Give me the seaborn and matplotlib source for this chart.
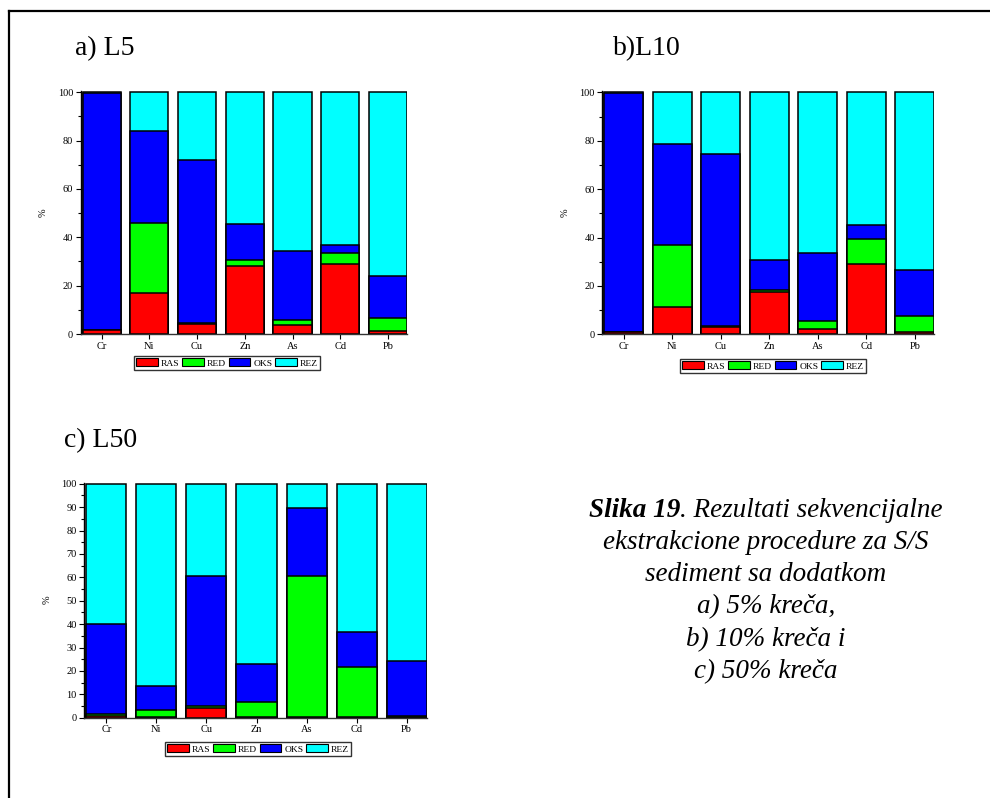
import matplotlib
matplotlib.use("Agg")
import matplotlib.pyplot as plt
import numpy as np
import pandas as pd
import seaborn as sns
from matplotlib.lines import Line2D
from matplotlib.patches import Patch
from matplotlib.ticker import MultipleLocator

# ---- data -------------------------------------------------------------
metals = ["Cr", "Ni", "Cu", "Zn", "As", "Cd", "Pb"]
fractions = ["RAS", "RED", "OKS", "REZ"]
fraction_colors = ["#FF0000", "#00FF00", "#0000FF", "#00FFFF"]

# a) L5
ras_l5 = [1.5, 16.8, 4.1, 28.1, 3.9, 28.8, 1.1]
red_l5 = [0.3, 29.3, 0.3, 2.5, 2.0, 4.9, 5.5]
oks_l5 = [98.0, 37.9, 67.5, 14.8, 28.6, 3.0, 17.5]
rez_l5 = [0.2, 16.0, 28.1, 54.6, 65.5, 63.3, 75.9]

# b) L10
ras_l10 = [0.8, 11.2, 3.0, 17.5, 2.2, 29.2, 0.8]
red_l10 = [0.3, 25.7, 0.3, 0.7, 3.2, 10.3, 6.8]
oks_l10 = [98.7, 41.6, 71.1, 12.4, 28.2, 5.8, 19.1]
rez_l10 = [0.2, 21.5, 25.6, 69.4, 66.4, 54.7, 73.3]

# c) L50
ras_l50 = [0.8, 0.1, 4.3, 0.1, 0.2, 0.2, 0.1]
red_l50 = [0.6, 3.2, 0.5, 6.6, 60.3, 21.5, 0.8]
oks_l50 = [38.5, 10.1, 55.7, 16.2, 29.2, 14.8, 23.2]
rez_l50 = [60.1, 86.6, 39.5, 77.1, 10.3, 63.5, 75.9]

panel_titles = ["a) L5", "b)L10", "c) L50"]
caption_bold = "Slika 19"
caption_lines = [
    ". Rezultati sekvencijalne",
    "ekstrakcione procedure za S/S",
    "sediment sa dodatkom",
    "a) 5% kreča,",
    "b) 10% kreča i",
    "c) 50% kreča",
]

# ---- style ------------------------------------------------------------
sns.set_style("ticks")
plt.rcParams["font.family"] = ["Liberation Serif", "DejaVu Serif"]
plt.rcParams["axes.linewidth"] = 1.0
for key in ["text.color", "axes.labelcolor", "xtick.color", "ytick.color",
            "axes.edgecolor"]:
    plt.rcParams[key] = "black"

W, H = 990, 798
fig = plt.figure(figsize=(W / 100, H / 100), dpi=100)


def px_axes(left, right, top0, bottom0, ymax=100.5):
    """Axes box from pixel positions of the y=0 and y=100 lines."""
    h100 = bottom0 - top0
    height = h100 * ymax / 100.0
    return fig.add_axes([left / W, (H - bottom0) / H, (right - left) / W, height / H])


def stacked_panel(ax, series, major, minor):
    df = pd.DataFrame({"metal": metals})
    cum = np.cumsum(np.array(series, dtype=float), axis=0)
    for i, name in enumerate(fractions):
        df[name] = cum[i]
    # draw the cumulative totals from the top down so each segment sits on the previous
    for i in reversed(range(len(fractions))):
        sns.barplot(data=df, x="metal", y=fractions[i], color=fraction_colors[i],
                    saturation=1, width=0.8, edgecolor="black", linewidth=1.1,
                    errorbar=None, ax=ax)
    ax.set_xlim(-0.44, 6.4)
    ax.set_ylim(0, 100.5)
    ax.yaxis.set_major_locator(MultipleLocator(major))
    ax.yaxis.set_minor_locator(MultipleLocator(minor))
    ax.set_xlabel("")
    ax.set_ylabel("%", fontsize=7.5, labelpad=7)
    ax.tick_params(axis="both", which="major", labelsize=7.5, length=3.5, width=0.8,
                   direction="out", pad=2)
    ax.tick_params(axis="y", which="minor", length=2, width=0.8, direction="out")
    for s in ["top", "right"]:
        ax.spines[s].set_visible(False)
    ax.spines["left"].set_color("black")
    ax.spines["bottom"].set_color("#333333")


def add_legend(cx, top):
    handles = [Patch(facecolor=c, edgecolor="black", linewidth=0.8) for c in fraction_colors]
    leg = fig.legend(handles, fractions, loc="upper center",
                     bbox_to_anchor=(cx / W, (H - top) / H), ncol=4,
                     fontsize=6.8, frameon=True, fancybox=False,
                     handlelength=2.3, handleheight=0.9, handletextpad=0.3,
                     columnspacing=0.3, borderpad=0.25, borderaxespad=0)
    leg.get_frame().set_edgecolor("black")
    leg.get_frame().set_linewidth(1.0)


ax_a = px_axes(80.7, 407.0, 92.3, 334.0)
stacked_panel(ax_a, [ras_l5, red_l5, oks_l5, rez_l5], 20, 10)
add_legend(227, 356)

ax_b = px_axes(602.3, 934.3, 92.3, 334.3)
stacked_panel(ax_b, [ras_l10, red_l10, oks_l10, rez_l10], 20, 10)
add_legend(773, 359)

ax_c = px_axes(84.3, 426.7, 483.7, 717.7)
stacked_panel(ax_c, [ras_l50, red_l50, oks_l50, rez_l50], 10, 5)
add_legend(258, 742)

# ---- panel titles -------------------------------------------------------
title_pos = [(75, 55), (613, 55), (64, 447)]
for (x, y), t in zip(title_pos, panel_titles):
    fig.text(x / W, (H - y) / H, t, fontsize=20, va="baseline", ha="left")

# ---- caption ------------------------------------------------------------
renderer = fig.canvas.get_renderer()
cap_cx = 766
cap_base = 517
cap_step = 32.2
cap_size = 19.5

# first line: bold-italic label followed by italic text, centred as a whole
t_bold = fig.text(0, 0, caption_bold, fontsize=cap_size, fontstyle="italic",
                  fontweight="bold", va="baseline", ha="left")
t_rest = fig.text(0, 0, caption_lines[0], fontsize=cap_size, fontstyle="italic",
                  va="baseline", ha="left")
wb = t_bold.get_window_extent(renderer).width
wr = t_rest.get_window_extent(renderer).width
x0 = cap_cx - (wb + wr) / 2
t_bold.set_position((x0 / W, (H - cap_base) / H))
t_rest.set_position(((x0 + wb) / W, (H - cap_base) / H))

for k, line in enumerate(caption_lines[1:], start=1):
    fig.text(cap_cx / W, (H - (cap_base + k * cap_step)) / H, line,
             fontsize=cap_size, fontstyle="italic", va="baseline", ha="center")

# ---- outer frame (left and top edges) -------------------------------------
fx, fy = 9 / W, (H - 11) / H
fig.add_artist(Line2D([fx, fx], [0, fy], transform=fig.transFigure,
                      color="black", linewidth=1.6, solid_capstyle="projecting"))
fig.add_artist(Line2D([fx, 1], [fy, fy], transform=fig.transFigure,
                      color="black", linewidth=1.6, solid_capstyle="projecting"))

fig.savefig("out.png", dpi=100)
